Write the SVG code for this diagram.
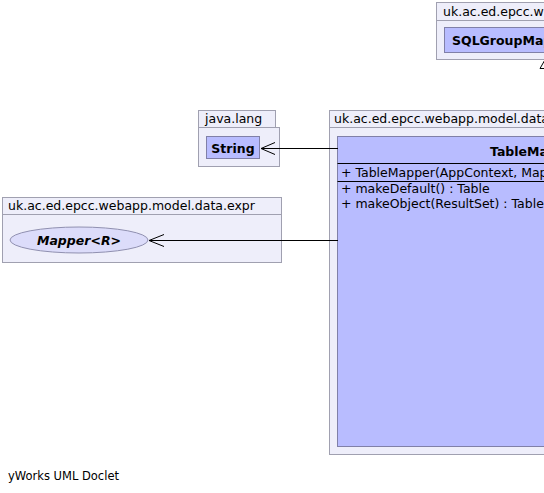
<svg xmlns="http://www.w3.org/2000/svg" width="544" height="493" viewBox="0 0 544 493">
<style>
.pkg{fill:#eeeefa;stroke:#a0a0b0;stroke-width:1}
.cls{fill:#b8bcff;stroke:#8080a8;stroke-width:1}
.t{font-family:"DejaVu Sans",sans-serif;font-size:12.5px;fill:#000}
.b{font-weight:bold}
.edge{stroke:#000;stroke-width:1;fill:none}
</style>
<rect x="0" y="0" width="544" height="493" fill="#fff"/>
<g id="pkg-sql">
<rect class="pkg" x="436.5" y="2.5" width="120" height="18"/>
<rect class="pkg" x="436.5" y="20.5" width="120" height="39"/>
<text class="t" x="443" y="16">uk.ac.ed.epcc.w</text>
<rect class="cls" x="444.5" y="27.5" width="110" height="25"/>
<text class="t b" x="452" y="45" font-size="14.5">SQLGroupMapper</text>
</g>
<g id="pkg-lang">
<rect class="pkg" x="198.5" y="110.5" width="77" height="17"/>
<rect class="pkg" x="198.5" y="127.5" width="81" height="39"/>
<text class="t" x="205" y="123">java.lang</text>
<g id="String">
<rect class="cls" x="206.5" y="136.5" width="53" height="22"/>
<text class="t b" x="233" y="152.5" text-anchor="middle" font-size="13">String</text>
</g>
</g>
<g id="pkg-expr">
<rect class="pkg" x="2.5" y="197.5" width="279" height="17"/>
<rect class="pkg" x="2.5" y="214.5" width="279" height="48"/>
<text class="t" x="8" y="210">uk.ac.ed.epcc.webapp.model.data.expr</text>
<g id="Mapper">
<ellipse cx="79" cy="240" rx="69" ry="13" fill="#dcdcfa" stroke="#9090b0"/>
<text class="t b" x="79" y="245" text-anchor="middle" font-style="italic" font-size="13">Mapper&lt;R&gt;</text>
</g>
</g>
<g id="pkg-main">
<rect class="pkg" x="329.5" y="110.5" width="230" height="17"/>
<rect class="pkg" x="329.5" y="127.5" width="230" height="327"/>
<text class="t" x="334" y="123" font-size="12.8">uk.ac.ed.epcc.webapp.model.data.table</text>
<g id="TableMapper">
<rect class="cls" x="337.5" y="136.5" width="220" height="310"/>
<text class="t b" x="490" y="156" font-size="18">TableMapper</text>
<line x1="337.5" y1="163.5" x2="557" y2="163.5" stroke="#000"/>
<text class="t" x="341" y="177">+ TableMapper(AppContext, Map)</text>
<line x1="337.5" y1="181.5" x2="557" y2="181.5" stroke="#000"/>
<text class="t" x="341" y="193">+ makeDefault() : Table</text>
<text class="t" x="341" y="208">+ makeObject(ResultSet) : Table</text>
</g>
</g>
<g id="connectors">
<path class="edge" d="M338,148.5 H261 M275,142.5 L261,148.5 L275,154.5"/>
<path class="edge" d="M338,240.5 H149 M164,234.5 L149,240.5 L164,246.5"/>
<polygon points="546,58 540,68.5 552,68.5" fill="#fff" stroke="#000"/>
</g>
<text x="8" y="480" font-family="DejaVu Sans, sans-serif" font-size="11.5" fill="#000">yWorks UML Doclet</text>
</svg>
